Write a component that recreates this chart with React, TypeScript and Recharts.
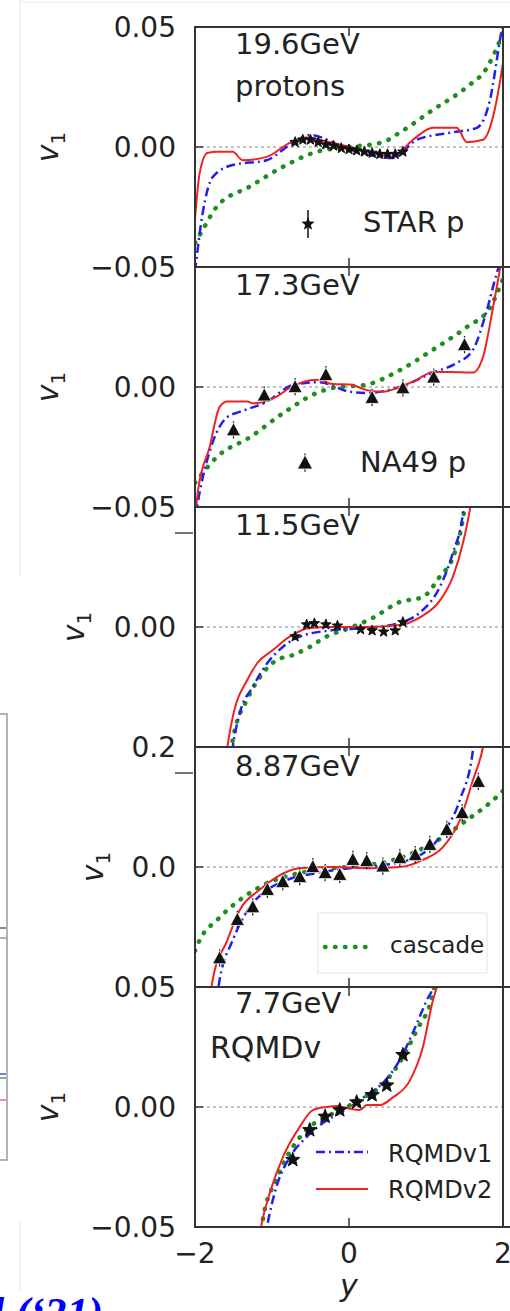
import React from "react";
import { ComposedChart, Line, Scatter, XAxis, YAxis, ReferenceLine } from "recharts";

// [rapidity y, v1] pairs
const rqmd1_196 = [[-2.0, -0.052], [-1.9, -0.0275], [-1.77, -0.0125], [-1.51, -0.0075], [-1.07, -0.0055], [-0.73, 0.0017], [-0.51, 0.005], [0.0, -0.001], [0.57, -0.0046], [0.88, 0.003], [1.32, 0.006], [1.66, 0.008], [1.83, 0.0195], [1.96, 0.0445], [2.0, 0.052]];
const rqmd2_196 = [[-2.0, -0.03], [-1.94, -0.011], [-1.84, -0.0025], [-1.71, -0.002], [-1.51, -0.002], [-1.38, -0.0055], [-1.06, -0.004], [-0.77, 0.0017], [-0.55, 0.004], [-0.25, 0.002], [0.14, -0.001], [0.57, -0.004], [0.83, 0.003], [1.09, 0.008], [1.4, 0.008], [1.53, 0.002], [1.74, 0.003], [1.87, 0.0125], [1.96, 0.027], [2.0, 0.035]];
const cascade_196 = [[-2.0, -0.04], [-1.9, -0.0345], [-1.72, -0.025], [-1.29, -0.0165], [-0.86, -0.0083], [-0.42, -0.002], [0.01, 0], [0.44, 0.002], [0.66, 0.006], [1.09, 0.0155], [1.53, 0.025], [1.79, 0.033], [1.96, 0.0445], [2.0, 0.048]];
const star_196 = [[-0.7, 0.002], [-0.6, 0.003], [-0.5, 0.003], [-0.4, 0.002], [-0.3, 0.001], [-0.2, 0.0005], [-0.1, -0.0005], [0, -0.001], [0.1, -0.0015], [0.2, -0.002], [0.3, -0.0025], [0.4, -0.003], [0.5, -0.003], [0.6, -0.003], [0.7, -0.002]];

const rqmd1_173 = [[-2.0, -0.055], [-1.94, -0.044], [-1.77, -0.023], [-1.58, -0.0125], [-1.42, -0.0104], [-1.06, -0.006], [-0.73, 0.0008], [-0.38, 0.002], [0.01, -0.002], [0.23, -0.0025], [0.66, 0], [1.09, 0.006], [1.4, 0.01], [1.61, 0.0155], [1.79, 0.032], [1.92, 0.0475], [2.0, 0.055]];
const rqmd2_173 = [[-2.0, -0.055], [-1.96, -0.043], [-1.81, -0.025], [-1.68, -0.0083], [-1.58, -0.006], [-1.32, -0.006], [-1.25, -0.0068], [-0.94, -0.004], [-0.77, -0.0004], [-0.42, 0.003], [-0.21, 0.0012], [0.01, 0.001], [0.23, -0.0013], [0.44, -0.002], [0.66, 0], [0.88, 0.003], [1.09, 0.0063], [1.31, 0.0063], [1.61, 0.006], [1.74, 0.0125], [1.87, 0.033], [1.96, 0.049], [2.0, 0.056]];
const cascade_173 = [[-2.0, -0.04], [-1.94, -0.0375], [-1.71, -0.029], [-1.29, -0.021], [-0.86, -0.011], [-0.42, -0.0025], [-0.21, -0.0004], [0.23, 0.001], [0.66, 0.007], [1.09, 0.0155], [1.53, 0.025], [1.83, 0.033], [2.0, 0.045]];
const na49_173 = [[-1.5, -0.018], [-1.1, -0.0035], [-0.7, 0], [-0.3, 0.005], [0.3, -0.0045], [0.7, -0.0005], [1.1, 0.004], [1.5, 0.0175]];

const rqmd1_115 = [[-1.55, -0.06], [-1.51, -0.05], [-1.42, -0.036], [-1.25, -0.025], [-1.06, -0.015], [-0.86, -0.0083], [-0.64, -0.004], [-0.21, -0.0013], [0.23, -0.0004], [0.66, 0.0017], [0.92, 0.006], [1.18, 0.0167], [1.35, 0.031], [1.48, 0.0475], [1.52, 0.06]];
const rqmd2_115 = [[-1.62, -0.06], [-1.57, -0.048], [-1.51, -0.0375], [-1.32, -0.022], [-1.19, -0.015], [-0.99, -0.0096], [-0.77, -0.004], [-0.51, -0.0004], [-0.21, 0], [0.23, 0], [0.66, 0.0008], [0.92, 0.004], [1.18, 0.011], [1.35, 0.021], [1.48, 0.035], [1.57, 0.049], [1.62, 0.06]];
const cascade_115 = [[-1.56, -0.06], [-1.51, -0.047], [-1.32, -0.03], [-1.16, -0.021], [-0.94, -0.0138], [-0.73, -0.0117], [-0.51, -0.0083], [-0.29, -0.004], [0.01, -0.0004], [0.31, 0.0038], [0.66, 0.0104], [0.96, 0.0125], [1.18, 0.021], [1.35, 0.029], [1.45, 0.04], [1.55, 0.06]];
const star_115 = [[-0.7, -0.004], [-0.55, 0.001], [-0.45, 0.0015], [-0.3, 0.001], [-0.15, 0.0005], [0.15, -0.001], [0.3, -0.0015], [0.45, -0.002], [0.6, -0.0015], [0.7, 0.002]];

const rqmd1_887 = [[-1.73, -0.23], [-1.68, -0.188], [-1.51, -0.122], [-1.29, -0.067], [-1.06, -0.038], [-0.81, -0.0217], [-0.42, -0.01], [0.01, -0.002], [0.44, 0.003], [0.88, 0.017], [1.18, 0.05], [1.44, 0.112], [1.61, 0.195], [1.64, 0.23]];
const rqmd2_887 = [[-1.82, -0.23], [-1.77, -0.188], [-1.58, -0.122], [-1.42, -0.072], [-1.16, -0.038], [-0.94, -0.0167], [-0.64, -0.002], [-0.21, 0], [0.23, -0.002], [0.66, 0], [0.96, 0.012], [1.22, 0.033], [1.44, 0.078], [1.61, 0.145], [1.74, 0.2], [1.78, 0.23]];
const cascade_887 = [[-2.0, -0.14], [-1.94, -0.122], [-1.71, -0.088], [-1.42, -0.055], [-1.06, -0.027], [-0.64, -0.01], [-0.21, -0.002], [0.23, 0.003], [0.66, 0.015], [1.09, 0.04], [1.53, 0.078], [1.92, 0.117], [2.0, 0.127]];
const na49_887 = [[-1.68, -0.152], [-1.45, -0.088], [-1.25, -0.067], [-1.06, -0.038], [-0.86, -0.025], [-0.64, -0.0167], [-0.47, 0.0], [-0.31, -0.01], [-0.12, -0.013], [0.05, 0.012], [0.23, 0.01], [0.44, 0.001], [0.66, 0.015], [0.86, 0.02], [1.05, 0.037], [1.27, 0.062], [1.47, 0.09], [1.68, 0.142]];

const rqmd1_77 = [[-1.1, -0.056], [-1.06, -0.049], [-0.94, -0.033], [-0.77, -0.021], [-0.55, -0.0125], [-0.34, -0.0067], [-0.12, -0.0025], [0.05, 0.0008], [0.23, 0.005], [0.44, 0.01], [0.66, 0.0196], [0.83, 0.031], [1.01, 0.0445], [1.09, 0.05], [1.13, 0.056]];
const rqmd2_77 = [[-1.17, -0.055], [-1.13, -0.048], [-1.03, -0.036], [-0.86, -0.021], [-0.64, -0.0083], [-0.47, -0.0013], [-0.29, 0], [-0.16, 0.0004], [-0.03, -0.0004], [0.14, -0.0013], [0.23, 0.0008], [0.4, 0.0008], [0.57, 0.004], [0.79, 0.011], [0.96, 0.025], [1.09, 0.0445], [1.14, 0.05], [1.18, 0.056]];
const cascade_77 = [[-1.15, -0.055], [-1.12, -0.047], [-0.94, -0.03], [-0.73, -0.0167], [-0.51, -0.0083], [-0.29, -0.004], [-0.03, 0], [0.18, 0.0038], [0.4, 0.0083], [0.62, 0.0167], [0.88, 0.032], [1.09, 0.0475], [1.13, 0.056]];
const star_77 = [[-0.73, -0.022], [-0.51, -0.0096], [-0.31, -0.004], [-0.12, -0.0013], [0.1, 0.002], [0.3, 0.005], [0.49, 0.009], [0.7, 0.0217]];

const energies = ["19.6GeV", "17.3GeV", "11.5GeV", "8.87GeV", "7.7GeV"];
const xTicks = [-2, 0, 2];

const rows = (a: number[][]) => a.map(([y, v]) => ({ y, v }));

const PL = 195;
const PR = 503;
const PH = 240;
const PAD = 24;
const FONT = "'DejaVu Sans', sans-serif";

const panels = [
  { top: 27, domain: [-0.05, 0.05], ticks: [-0.05, 0, 0.05], digits: 2, blue: rqmd1_196, red: rqmd2_196, green: cascade_196, pts: star_196, marker: "star", size: 5.5 },
  { top: 267, domain: [-0.05, 0.05], ticks: [-0.05, 0], digits: 2, blue: rqmd1_173, red: rqmd2_173, green: cascade_173, pts: na49_173, marker: "tri", size: 7.5 },
  { top: 507, domain: [-0.05, 0.05], ticks: [0], digits: 2, blue: rqmd1_115, red: rqmd2_115, green: cascade_115, pts: star_115, marker: "star", size: 5.5 },
  { top: 747, domain: [-0.2, 0.2], ticks: [0, 0.2], digits: 1, blue: rqmd1_887, red: rqmd2_887, green: cascade_887, pts: na49_887, marker: "tri", size: 7.5 },
  { top: 987, domain: [-0.05, 0.05], ticks: [-0.05, 0, 0.05], digits: 2, blue: rqmd1_77, red: rqmd2_77, green: cascade_77, pts: star_77, marker: "star", size: 7.5 },
];

const fmt = (v: number, d: number) => (v < 0 ? "\u2212" : "") + Math.abs(v).toFixed(d);

const starPath = (cx: number, cy: number, R: number) => {
  const r = R * 0.42;
  let d = "";
  for (let i = 0; i < 10; i++) {
    const a = -Math.PI / 2 + (i * Math.PI) / 5;
    const rr = i % 2 === 0 ? R : r;
    d += (i === 0 ? "M" : "L") + (cx + rr * Math.cos(a)).toFixed(2) + "," + (cy + rr * Math.sin(a)).toFixed(2);
  }
  return d + "Z";
};

const Marker = ({ cx, cy, kind, size }: any) => {
  if (cx == null || cy == null) return null;
  if (kind === "star") {
    return <path d={starPath(cx, cy, size)} fill="#111" stroke="#111" strokeWidth={1} />;
  }
  const s = size;
  return (
    <g>
      <line x1={cx} x2={cx} y1={cy - s * 1.2} y2={cy + s * 1.1} stroke="#111" strokeWidth={1.2} />
      <path d={`M${cx},${cy - s}L${cx + s * 0.95},${cy + s * 0.75}L${cx - s * 0.95},${cy + s * 0.75}Z`} fill="#111" stroke="#fff" strokeWidth={0.8} />
    </g>
  );
};

const YTick = ({ x, y, payload, digits }: any) => (
  <g>
    <line x1={x + 19} x2={x + 27} y1={y} y2={y} stroke="#333" strokeWidth={1.5} />
    <text x={x} y={y} dy="0.36em" textAnchor="end" fontSize={28} fontFamily={FONT} fill="#222">
      {fmt(payload.value, digits)}
    </text>
  </g>
);

const XTick = ({ x, y, payload }: any) => (
  <text x={x} y={y} dy="0.72em" textAnchor="middle" fontSize={28} fontFamily={FONT} fill="#222">
    {payload.value < 0 ? "\u2212" + Math.abs(payload.value) : String(payload.value)}
  </text>
);

const Panel = ({ p, showX }: any) => {
  const h = PAD + PH + (showX ? 60 : PAD);
  return (
    <div style={{ position: "absolute", left: 0, top: p.top - PAD }}>
      <ComposedChart width={510} height={h} margin={{ top: PAD, right: 510 - PR, bottom: showX ? 0 : PAD, left: PL - 60 }}>
        <XAxis type="number" dataKey="y" domain={[-2, 2]} allowDataOverflow ticks={xTicks} interval={0} hide={!showX} height={60} axisLine={false} tickLine={false} tickSize={0} tickMargin={16} tick={<XTick />} />
        <YAxis type="number" dataKey="v" domain={p.domain} allowDataOverflow ticks={p.ticks} interval={0} width={60} axisLine={false} tickLine={false} tickSize={0} tickMargin={19} tick={(t: any) => <YTick {...t} digits={p.digits} />} />
        <ReferenceLine y={0} stroke="#888" strokeDasharray="3 3" strokeWidth={1} />
        <Line data={rows(p.green)} dataKey="v" type="monotone" stroke="#1e8f1e" strokeWidth={4.5} strokeDasharray="0.5 9.5" strokeLinecap="round" dot={false} isAnimationActive={false} />
        <Line data={rows(p.blue)} dataKey="v" type="monotone" stroke="#2020ee" strokeWidth={2.5} strokeDasharray="9 4 2 4" dot={false} isAnimationActive={false} />
        <Line data={rows(p.red)} dataKey="v" type="monotone" stroke="#ee2222" strokeWidth={2} dot={false} isAnimationActive={false} />
        <Scatter data={rows(p.pts)} dataKey="v" isAnimationActive={false} shape={(s: any) => <Marker cx={s.cx} cy={s.cy} kind={p.marker} size={p.size} />} />
      </ComposedChart>
    </div>
  );
};

const V1 = ({ cx, cy }: { cx: number; cy: number }) => (
  <text transform={`translate(${cx},${cy}) rotate(-90)`} textAnchor="middle" fontFamily={FONT} fill="#222">
    <tspan fontSize={30} fontStyle="italic">v</tspan>
    <tspan fontSize={20} dy={7}>1</tspan>
  </text>
);

const txt = { fontFamily: FONT, fill: "#222" } as const;

export default function App() {
  const bounds = [27, 267, 507, 747, 987, 1227];
  return (
    <div style={{ position: "absolute", left: 0, top: 0, width: 510, height: 1311, background: "#fff", overflow: "hidden" }}>
      {panels.map((p, i) => (
        <Panel key={i} p={p} showX={i === panels.length - 1} />
      ))}
      <svg width={510} height={1311} style={{ position: "absolute", left: 0, top: 0, pointerEvents: "none" }}>
        {/* faint page edges */}
        <line x1={20} x2={20} y1={0} y2={575} stroke="#ececec" strokeWidth={1.5} />
        <line x1={20} x2={20} y1={1222} y2={1290} stroke="#ececec" strokeWidth={1.5} />
        <line x1={20} x2={510} y1={2} y2={2} stroke="#f0f0f0" strokeWidth={1.5} />
        {/* neighbouring figure, left */}
        <rect x={-3} y={714} width={10} height={446} fill="none" stroke="#9a9a9a" strokeWidth={1.5} />
        <line x1={0} x2={7} y1={938} y2={938} stroke="#9a9a9a" strokeWidth={1.5} />
        <line x1={0} x2={6} y1={928} y2={928} stroke="#1e8f1e" strokeWidth={1.5} />
        <line x1={0} x2={6} y1={1074} y2={1074} stroke="#2020ee" strokeWidth={1.2} />
        <line x1={0} x2={6} y1={1078} y2={1078} stroke="#1e8f1e" strokeWidth={1.2} />
        <line x1={0} x2={6} y1={1100} y2={1100} stroke="#ee4444" strokeWidth={1.2} />
        {/* frames */}
        <rect x={PL} y={27} width={PR - PL} height={1200} fill="none" stroke="#333" strokeWidth={2} />
        {bounds.map((b) => (
          <line key={b} x1={PL} x2={510} y1={b} y2={b} stroke="#333" strokeWidth={2} />
        ))}
        {bounds.map((b, i) => (
          <line key={"t" + b} x1={349} x2={349} y1={i === 0 ? b : b - 9} y2={i === bounds.length - 1 ? b : b + 9} stroke="#333" strokeWidth={1.5} />
        ))}
        <line x1={175} x2={193} y1={533} y2={533} stroke="#444" strokeWidth={1.5} />
        <line x1={175} x2={193} y1={773} y2={773} stroke="#444" strokeWidth={1.5} />
        {/* axis labels */}
        <V1 cx={58} cy={147} />
        <V1 cx={58} cy={387} />
        <V1 cx={84} cy={627} />
        <V1 cx={103} cy={867} />
        <V1 cx={58} cy={1107} />
        <text x={349} y={1296} textAnchor="middle" fontSize={30} fontStyle="italic" {...txt}>y</text>
        {/* panel annotations */}
        <text x={235} y={54} fontSize={29} {...txt}>{energies[0]}</text>
        <text x={235} y={96} fontSize={29} {...txt}>protons</text>
        <text x={363} y={232} fontSize={29} {...txt}>STAR p</text>
        <line x1={308} x2={308} y1={210} y2={238} stroke="#111" strokeWidth={1.5} />
        <path d={starPath(308, 224, 7)} fill="#111" />
        <text x={235} y={295} fontSize={29} {...txt}>{energies[1]}</text>
        <text x={360} y={472} fontSize={29} {...txt}>NA49 p</text>
        <Marker cx={305} cy={463} kind="tri" size={8} />
        <text x={235} y={535} fontSize={29} {...txt}>{energies[2]}</text>
        <text x={235} y={776} fontSize={29} {...txt}>{energies[3]}</text>
        <rect x={318} y={913} width={169} height={60} fill="#fff" fillOpacity={0.85} stroke="#e4e4e4" strokeWidth={1} />
        <line x1={325} x2={370} y1={947} y2={947} stroke="#1e8f1e" strokeWidth={4.5} strokeDasharray="0.5 9.5" strokeLinecap="round" />
        <text x={390} y={953} fontSize={23} {...txt}>cascade</text>
        <text x={235} y={1013} fontSize={29} {...txt}>{energies[4]}</text>
        <text x={210} y={1058} fontSize={30} {...txt}>RQMDv</text>
        <line x1={316} x2={368} y1={1152} y2={1152} stroke="#2020ee" strokeWidth={2.5} strokeDasharray="9 4 2 4" />
        <text x={388} y={1162} fontSize={24} {...txt}>RQMDv1</text>
        <line x1={316} x2={368} y1={1189} y2={1189} stroke="#ee2222" strokeWidth={2} />
        <text x={388} y={1198} fontSize={24} {...txt}>RQMDv2</text>
        {/* cut-off caption */}
        <text x={-8} y={1328} fontSize={44} fontFamily="'Liberation Serif', serif" fontWeight="bold" fontStyle="italic" fill="#0000ff">l (‘21)</text>
      </svg>
    </div>
  );
}
